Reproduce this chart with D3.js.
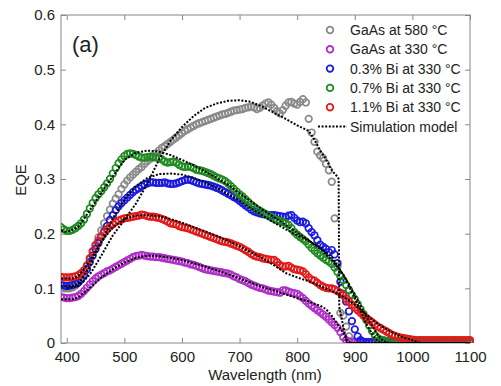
<!DOCTYPE html>
<html>
<head>
<meta charset="utf-8">
<script src="https://cdn.jsdelivr.net/npm/d3@7/dist/d3.min.js"></script>
<style>
  body { margin: 0; background: #fff; }
  text { font-family: Arial, "Liberation Sans", sans-serif; fill: #222; }
</style>
</head>
<body>
<svg width="501" height="386"></svg>
<script>
// wavelength grid of the measured EQE curves (nm)
var wavelengths = d3.range(390, 1101, 5);

// measured EQE, one value per grid point
var gaas580 = [0.100,0.100,0.100,0.100,0.102,0.105,0.110,0.118,0.128,0.140,0.153,0.166,0.180,0.193,0.206,0.219,0.232,0.244,0.255,0.264,
  0.272,0.282,0.290,0.297,0.303,0.308,0.313,0.318,0.322,0.328,0.333,0.337,0.342,0.347,0.352,0.357,0.360,0.364,0.368,0.372,
  0.376,0.380,0.384,0.388,0.391,0.394,0.397,0.400,0.402,0.404,0.406,0.408,0.410,0.412,0.414,0.416,0.418,0.419,0.421,0.423,
  0.425,0.426,0.427,0.428,0.430,0.431,0.432,0.431,0.428,0.430,0.434,0.438,0.440,0.436,0.430,0.424,0.420,0.426,0.434,0.440,
  0.441,0.438,0.436,0.441,0.446,0.440,0.410,0.385,0.368,0.350,0.343,0.338,0.328,0.316,0.295,0.228,0.140,0.055,0.050,0.030,
  0.012,0.004,0.002,0.002,0.002,0.002,0.002,0.002,0.002,0.002,0.002,0.002,0.002,0.002,0.002,0.002,0.002,0.002,0.002,0.002,
  0.002,0.002,0.002,0.002,0.002,0.002,0.002,0.002,0.002,0.002,0.002,0.002,0.002,0.002,0.002,0.002,0.002,0.002,0.002,0.002,
  0.002,0.002,0.002];
var gaas330 = [0.084,0.083,0.082,0.082,0.083,0.084,0.086,0.090,0.095,0.101,0.107,0.113,0.118,0.122,0.125,0.128,0.131,0.133,0.136,0.139,
  0.142,0.145,0.148,0.151,0.154,0.157,0.159,0.160,0.161,0.160,0.159,0.158,0.158,0.157,0.157,0.156,0.155,0.154,0.153,0.152,
  0.151,0.150,0.149,0.147,0.146,0.144,0.143,0.141,0.139,0.137,0.135,0.134,0.133,0.132,0.131,0.130,0.129,0.128,0.127,0.125,
  0.122,0.120,0.117,0.115,0.113,0.110,0.107,0.105,0.103,0.101,0.100,0.098,0.096,0.095,0.094,0.093,0.092,0.096,0.096,0.094,
  0.092,0.091,0.090,0.086,0.082,0.077,0.072,0.068,0.064,0.060,0.056,0.052,0.048,0.043,0.038,0.033,0.028,0.020,0.011,0.005,
  0.002,0.001,0.001,0.001,0.001,0.001,0.001,0.001,0.001,0.001,0.001,0.001,0.001,0.001,0.001,0.001,0.001,0.001,0.001,0.001,
  0.001,0.001,0.001,0.001,0.001,0.001,0.001,0.001,0.001,0.001,0.001,0.001,0.001,0.001,0.001,0.001,0.001,0.001,0.001,0.001,
  0.001,0.001,0.001];
var bi03 = [0.106,0.105,0.104,0.105,0.106,0.108,0.111,0.116,0.124,0.135,0.148,0.160,0.172,0.183,0.194,0.204,0.214,0.225,0.234,0.243,
  0.250,0.256,0.261,0.266,0.271,0.276,0.280,0.283,0.287,0.290,0.292,0.294,0.294,0.293,0.293,0.293,0.294,0.292,0.291,0.291,
  0.292,0.294,0.296,0.298,0.299,0.298,0.296,0.294,0.292,0.291,0.290,0.289,0.288,0.286,0.284,0.282,0.279,0.276,0.273,0.270,
  0.267,0.264,0.260,0.256,0.252,0.248,0.244,0.241,0.239,0.237,0.236,0.235,0.234,0.234,0.234,0.233,0.232,0.231,0.230,0.233,
  0.234,0.229,0.224,0.221,0.222,0.219,0.210,0.203,0.197,0.188,0.180,0.176,0.172,0.166,0.170,0.162,0.146,0.112,0.090,0.076,
  0.058,0.040,0.025,0.012,0.005,0.002,0.001,0.001,0.001,0.001,0.001,0.001,0.001,0.001,0.001,0.001,0.001,0.001,0.001,0.001,
  0.001,0.001,0.001,0.001,0.001,0.001,0.001,0.001,0.001,0.001,0.001,0.001,0.001,0.001,0.001,0.001,0.001,0.001,0.001,0.001,
  0.001,0.001,0.001];
var bi07 = [0.212,0.208,0.205,0.205,0.207,0.210,0.214,0.219,0.226,0.236,0.246,0.256,0.265,0.272,0.278,0.285,0.292,0.300,0.310,0.320,
  0.329,0.336,0.342,0.346,0.347,0.346,0.344,0.341,0.339,0.339,0.340,0.341,0.340,0.339,0.339,0.336,0.332,0.330,0.331,0.332,
  0.330,0.326,0.323,0.322,0.323,0.322,0.320,0.317,0.316,0.315,0.313,0.311,0.309,0.306,0.303,0.301,0.299,0.296,0.292,0.287,
  0.282,0.277,0.272,0.268,0.263,0.258,0.253,0.249,0.245,0.242,0.239,0.236,0.233,0.230,0.227,0.225,0.223,0.221,0.219,0.216,
  0.210,0.203,0.198,0.194,0.190,0.186,0.180,0.174,0.169,0.164,0.160,0.156,0.152,0.149,0.145,0.138,0.130,0.122,0.115,0.106,
  0.097,0.088,0.080,0.071,0.062,0.053,0.042,0.032,0.022,0.014,0.009,0.006,0.005,0.004,0.004,0.004,0.004,0.004,0.004,0.004,
  0.004,0.003,0.002,0.002,0.002,0.002,0.002,0.002,0.002,0.002,0.002,0.002,0.002,0.002,0.002,0.002,0.002,0.002,0.002,0.002,
  0.002,0.002,0.002];
var bi11 = [0.121,0.120,0.120,0.120,0.121,0.122,0.124,0.128,0.133,0.142,0.155,0.168,0.178,0.187,0.195,0.202,0.208,0.213,0.217,0.221,
  0.224,0.226,0.228,0.229,0.230,0.231,0.232,0.233,0.235,0.234,0.232,0.231,0.231,0.230,0.229,0.227,0.225,0.222,0.219,0.218,
  0.217,0.214,0.212,0.211,0.210,0.208,0.206,0.204,0.202,0.200,0.198,0.196,0.194,0.192,0.190,0.188,0.186,0.185,0.184,0.182,
  0.180,0.178,0.176,0.173,0.170,0.167,0.163,0.160,0.158,0.157,0.155,0.154,0.153,0.152,0.152,0.148,0.143,0.140,0.140,0.141,
  0.138,0.135,0.134,0.133,0.131,0.126,0.120,0.116,0.114,0.110,0.106,0.103,0.101,0.100,0.100,0.098,0.095,0.092,0.087,0.081,
  0.075,0.070,0.065,0.060,0.055,0.050,0.046,0.042,0.038,0.034,0.030,0.027,0.024,0.021,0.018,0.015,0.013,0.011,0.010,0.009,
  0.008,0.007,0.006,0.005,0.005,0.005,0.005,0.005,0.005,0.005,0.005,0.005,0.005,0.005,0.005,0.005,0.005,0.005,0.005,0.005,
  0.005,0.005,0.005];

// simulation model curves [wavelength, EQE]
var simGaas580 = [[400,0.100],[420,0.104],[440,0.125],[460,0.160],[480,0.197],[500,0.225],[520,0.255],[540,0.292],[560,0.335],
  [580,0.370],[600,0.395],[620,0.415],[640,0.430],[660,0.438],[680,0.443],[700,0.444],[720,0.441],[740,0.432],[760,0.421],
  [780,0.410],[800,0.398],[820,0.388],[830,0.372],[840,0.352],[850,0.336],[860,0.316],[870,0.304],[872,0.300],[873,0.066],
  [880,0.030],[887,0.000],[1100,0.000]];
var simGaas330 = [[390,0.080],[410,0.080],[420,0.083],[440,0.100],[460,0.120],[480,0.135],[500,0.147],[520,0.156],[540,0.160],
  [560,0.159],[580,0.156],[600,0.152],[620,0.146],[640,0.140],[660,0.133],[680,0.126],[700,0.118],[720,0.110],[740,0.102],
  [760,0.096],[780,0.089],[800,0.082],[820,0.076],[840,0.068],[850,0.062],[860,0.050],[870,0.035],[880,0.018],[887,0.003],
  [895,0.000],[1100,0.000]];
var simBi03 = [[390,0.104],[410,0.104],[420,0.108],[440,0.140],[460,0.185],[480,0.228],[500,0.262],[520,0.287],[540,0.302],
  [560,0.309],[580,0.310],[600,0.308],[620,0.302],[640,0.294],[660,0.284],[680,0.272],[700,0.260],[720,0.246],[740,0.233],
  [760,0.220],[780,0.208],[800,0.197],[820,0.187],[840,0.175],[860,0.157],[880,0.125],[900,0.082],[920,0.035],[935,0.008],
  [945,0.000],[1100,0.000]];
var simBi07 = [[390,0.206],[400,0.203],[420,0.212],[440,0.243],[460,0.275],[480,0.305],[500,0.335],[520,0.348],[540,0.352],
  [560,0.350],[580,0.344],[600,0.335],[620,0.325],[640,0.314],[660,0.302],[680,0.289],[700,0.274],[720,0.259],[740,0.244],
  [760,0.230],[780,0.216],[800,0.202],[820,0.188],[840,0.172],[860,0.152],[880,0.125],[900,0.088],[920,0.048],[940,0.015],
  [950,0.003],[960,0.000],[1100,0.000]];
var simBi11 = [[390,0.118],[410,0.118],[420,0.122],[440,0.150],[460,0.185],[480,0.212],[500,0.227],[520,0.233],[540,0.234],
  [560,0.232],[580,0.227],[600,0.220],[620,0.212],[640,0.204],[660,0.196],[680,0.187],[700,0.177],[720,0.166],[740,0.155],
  [760,0.142],[780,0.128],[800,0.120],[820,0.113],[840,0.104],[860,0.095],[880,0.085],[900,0.070],[920,0.052],[940,0.035],
  [960,0.022],[980,0.012],[1000,0.005],[1015,0.000],[1100,0.000]];

var seriesNames = ["GaAs at 580 \u00B0C", "GaAs at 330 \u00B0C", "0.3% Bi at 330 \u00B0C", "0.7% Bi at 330 \u00B0C", "1.1% Bi at 330 \u00B0C"];
var seriesColors = ["#8a8a8a", "#b02ec8", "#1a1ae0", "#1f8a1f", "#e31a1a"];
var xTicks = [400, 500, 600, 700, 800, 900, 1000, 1100];
var yTicks = [0, 0.1, 0.2, 0.3, 0.4, 0.5, 0.6];
var yTickLabels = ["0", "0.1", "0.2", "0.3", "0.4", "0.5", "0.6"];

var svg = d3.select("svg");
var pLeft = 61, pTop = 15, pRight = 470, pBottom = 343;

var x = d3.scaleLinear().domain([390, 1100]).range([pLeft, pRight]);
var y = d3.scaleLinear().domain([0, 0.6]).range([pBottom, pTop]);

svg.append("defs").append("clipPath").attr("id", "plotclip")
  .append("rect").attr("x", pLeft).attr("y", pTop - 4).attr("width", pRight - pLeft + 4).attr("height", pBottom - pTop + 4);

// axes, MATLAB style: box with inward ticks on all sides
var axisColor = "#888";
function styleAxis(g) {
  g.select(".domain").remove();
  g.selectAll(".tick line").attr("stroke", axisColor);
  g.selectAll(".tick text").style("font-size", "15px").attr("fill", "#222");
}
svg.append("g").attr("transform", "translate(0," + pBottom + ")")
  .call(d3.axisBottom(x).tickValues(xTicks).tickSize(-5).tickPadding(8).tickFormat(d3.format("d")))
  .call(styleAxis);
svg.append("g").attr("transform", "translate(0," + pTop + ")")
  .call(d3.axisTop(x).tickValues(xTicks).tickSize(-5).tickFormat(""))
  .call(styleAxis);
svg.append("g").attr("transform", "translate(" + pLeft + ",0)")
  .call(d3.axisLeft(y).tickValues(yTicks).tickSize(-5).tickPadding(6).tickFormat(function (d, i) { return yTickLabels[i]; }))
  .call(styleAxis);
svg.append("g").attr("transform", "translate(" + pRight + ",0)")
  .call(d3.axisRight(y).tickValues(yTicks).tickSize(-5).tickFormat(""))
  .call(styleAxis);
svg.append("rect").attr("x", pLeft).attr("y", pTop).attr("width", pRight - pLeft).attr("height", pBottom - pTop)
  .attr("fill", "none").attr("stroke", axisColor).attr("stroke-width", 1);

// measured data as open circles
var plot = svg.append("g").attr("clip-path", "url(#plotclip)");
var measured = [gaas580, gaas330, bi03, bi07, bi11];
measured.forEach(function (vals, si) {
  plot.append("g").selectAll("circle")
    .data(vals)
    .enter().append("circle")
      .attr("cx", function (d, i) { return x(wavelengths[i]); })
      .attr("cy", function (d) { return y(d); })
      .attr("r", 3.3)
      .attr("fill", "none")
      .attr("stroke", seriesColors[si])
      .attr("stroke-width", 1.7);
});

// simulation curves, black dotted
var line = d3.line().x(function (d) { return x(d[0]); }).y(function (d) { return y(d[1]); });
[simGaas580, simGaas330, simBi03, simBi07, simBi11].forEach(function (s) {
  plot.append("path").datum(s)
    .attr("d", line)
    .attr("fill", "none")
    .attr("stroke", "#000")
    .attr("stroke-width", 2)
    .attr("stroke-dasharray", "2,1.6");
});

// panel label
svg.append("text").attr("x", 72).attr("y", 52).style("font-size", "22px").text("(a)");

// legend
var legend = svg.append("g").attr("transform", "translate(330,30)");
seriesNames.forEach(function (name, i) {
  legend.append("circle").attr("cx", 0).attr("cy", i * 19.3).attr("r", 3.3)
    .attr("fill", "none").attr("stroke", seriesColors[i]).attr("stroke-width", 1.8);
  legend.append("text").attr("x", 20).attr("y", i * 19.3 + 5).style("font-size", "14px").text(name);
});
legend.append("line").attr("x1", -12).attr("x2", 17).attr("y1", 5 * 19.3).attr("y2", 5 * 19.3)
  .attr("stroke", "#000").attr("stroke-width", 2).attr("stroke-dasharray", "2,1.6");
legend.append("text").attr("x", 20).attr("y", 5 * 19.3 + 5).style("font-size", "14px").text("Simulation model");

// axis titles
svg.append("text").attr("x", 265).attr("y", 380).attr("text-anchor", "middle").style("font-size", "15px").text("Wavelength (nm)");
svg.append("text").attr("transform", "translate(26,180) rotate(-90)").attr("text-anchor", "middle").style("font-size", "15px").text("EQE");
</script>
</body>
</html>
